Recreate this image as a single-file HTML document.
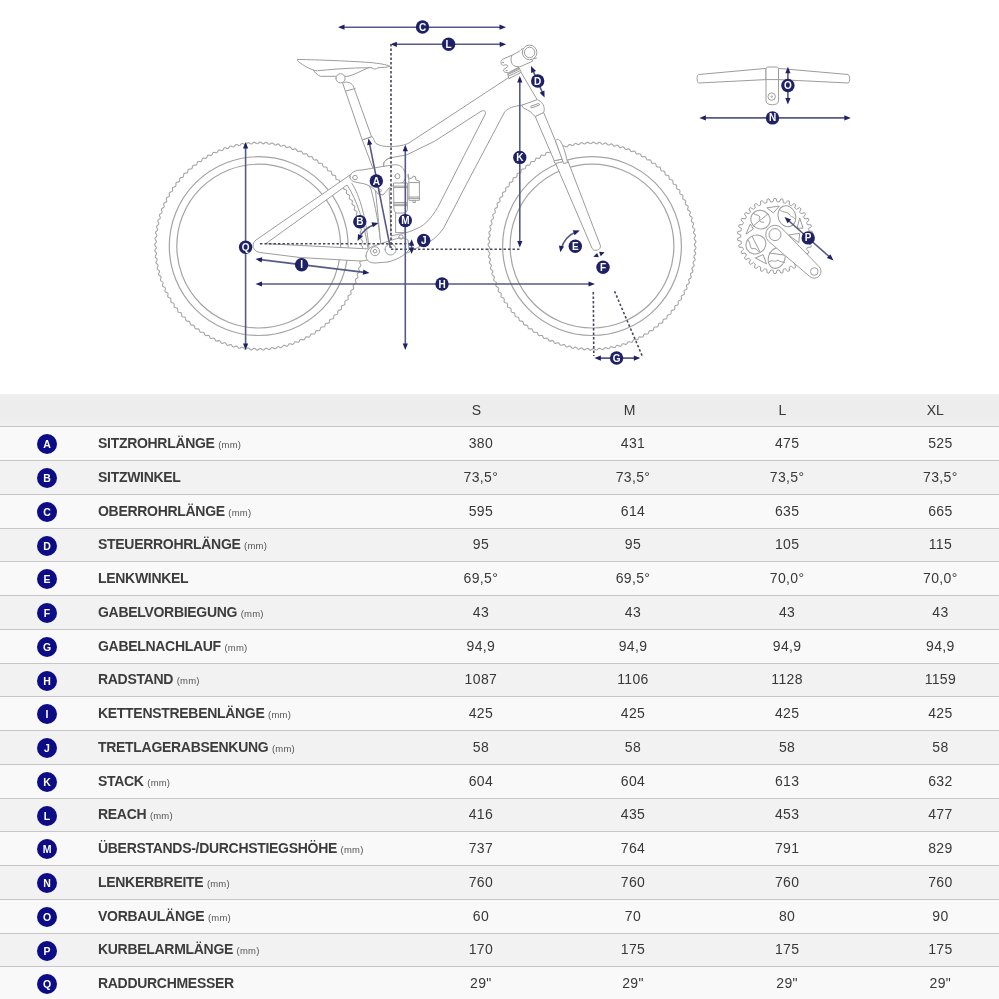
<!DOCTYPE html>
<html><head><meta charset="utf-8"><style>
*{margin:0;padding:0;box-sizing:border-box}
html,body{width:999px;height:999px;overflow:hidden;background:#fff}
body{position:relative;font-family:"Liberation Sans",Arial,sans-serif;color:#363636}
.hdr{position:absolute;left:0;top:394px;width:999px;height:33px;background:linear-gradient(#f0f0f0 0,#ededed 12%,#ededed 75%,#f1f1f1 100%);border-bottom:1px solid #c4c4c4}
.row{position:absolute;left:0;width:999px;border-bottom:1px solid #c6c6c6}
.odd{background:#f9f9f9}
.even{background:#f2f2f2}
.c{position:absolute;width:20px;height:20px;border-radius:50%;background:#0c0c86;color:#fff;font-weight:bold;font-size:10.5px;line-height:20px;text-align:center}
.lb{position:absolute;left:98px;font-weight:bold;font-size:14px;white-space:nowrap;color:#3c3c3c;letter-spacing:-0.3px;line-height:18px}
.lb small{font-weight:normal;font-size:9.5px;color:#555;letter-spacing:0.2px}
.v{position:absolute;width:100px;text-align:center;font-size:14px;white-space:nowrap;line-height:18px;letter-spacing:0.35px;color:#383838}
.h{position:absolute;width:100px;text-align:center;font-size:14px;top:401px;line-height:18px}
</style></head><body>

<svg width="999" height="394" viewBox="0 0 999 394" style="position:absolute;left:0;top:0">
<g fill="none" stroke="#9c9c9c" stroke-width="1.1" stroke-linejoin="round" stroke-linecap="round">
<polyline points="361.90,246.10 362.50,246.85 362.74,247.61 362.48,248.36 361.86,249.10 361.23,249.83 360.95,250.56 361.17,251.32 361.73,252.10 362.28,252.89 362.47,253.66 362.17,254.39 361.51,255.09 360.84,255.79 360.52,256.50 360.69,257.27 361.20,258.08 361.71,258.90 361.86,259.68 361.51,260.40 360.81,261.06 360.10,261.71 359.74,262.41 359.87,263.18 360.33,264.02 360.79,264.87 360.90,265.66 360.51,266.35 359.77,266.97 359.03,267.58 358.62,268.25 358.70,269.03 359.12,269.90 359.53,270.77 359.59,271.57 359.16,272.24 358.38,272.81 357.61,273.37 357.17,274.03 357.20,274.81 357.56,275.70 357.92,276.59 357.93,277.39 357.47,278.03 356.66,278.56 355.85,279.08 355.38,279.70 355.36,280.49 355.68,281.40 355.98,282.31 355.95,283.11 355.44,283.72 354.61,284.20 353.77,284.67 353.26,285.27 353.20,286.05 353.46,286.98 353.71,287.91 353.63,288.70 353.09,289.28 352.23,289.71 351.37,290.14 350.82,290.70 350.72,291.48 350.92,292.42 351.12,293.36 350.99,294.14 350.42,294.70 349.54,295.08 348.65,295.45 348.07,295.98 347.92,296.75 348.07,297.70 348.21,298.65 348.04,299.43 347.44,299.95 346.54,300.28 345.63,300.60 345.02,301.09 344.83,301.85 344.92,302.81 345.01,303.77 344.79,304.53 344.16,305.02 343.24,305.29 342.31,305.56 341.68,306.02 341.44,306.77 341.48,307.73 341.51,308.69 341.25,309.44 340.59,309.89 339.65,310.11 338.72,310.32 338.05,310.74 337.77,311.48 337.76,312.44 337.73,313.40 337.43,314.13 336.74,314.54 335.79,314.71 334.85,314.86 334.16,315.25 333.84,315.96 333.76,316.92 333.68,317.88 333.34,318.60 332.63,318.96 331.67,319.07 330.72,319.17 330.01,319.52 329.65,320.21 329.52,321.16 329.38,322.12 329.00,322.81 328.27,323.14 327.31,323.19 326.35,323.24 325.62,323.54 325.22,324.21 325.04,325.16 324.84,326.10 324.42,326.77 323.67,327.05 322.71,327.05 321.75,327.04 321.01,327.30 320.56,327.95 320.33,328.88 320.08,329.81 319.61,330.46 318.85,330.69 317.89,330.64 316.94,330.57 316.18,330.79 315.70,331.41 315.41,332.32 315.11,333.24 314.61,333.85 313.83,334.05 312.88,333.94 311.93,333.81 311.16,333.98 310.64,334.58 310.30,335.47 309.95,336.37 309.41,336.96 308.63,337.11 307.68,336.94 306.74,336.76 305.96,336.89 305.41,337.45 305.02,338.32 304.61,339.20 304.04,339.75 303.25,339.85 302.31,339.63 301.38,339.40 300.60,339.48 300.02,340.01 299.58,340.86 299.12,341.71 298.52,342.23 297.72,342.29 296.80,342.01 295.89,341.72 295.10,341.76 294.49,342.25 294.00,343.08 293.49,343.90 292.86,344.38 292.07,344.39 291.16,344.06 290.26,343.72 289.48,343.71 288.84,344.17 288.30,344.96 287.75,345.75 287.09,346.20 286.29,346.17 285.41,345.78 284.53,345.39 283.75,345.34 283.09,345.76 282.50,346.52 281.90,347.27 281.22,347.68 280.43,347.60 279.57,347.17 278.72,346.73 277.94,346.63 277.25,347.01 276.62,347.73 275.98,348.45 275.28,348.82 274.49,348.69 273.66,348.21 272.83,347.72 272.06,347.57 271.35,347.92 270.68,348.60 270.00,349.28 269.28,349.61 268.50,349.44 267.69,348.91 266.90,348.37 266.14,348.18 265.41,348.48 264.70,349.13 263.98,349.77 263.24,350.05 262.47,349.83 261.70,349.26 260.94,348.67 260.19,348.44 259.45,348.70 258.70,349.30 257.95,349.90 257.19,350.14 256.44,349.88 255.70,349.26 254.97,348.63 254.24,348.35 253.48,348.57 252.70,349.13 251.91,349.68 251.14,349.87 250.41,349.57 249.71,348.91 249.01,348.24 248.30,347.92 247.53,348.09 246.72,348.60 245.90,349.11 245.12,349.26 244.40,348.91 243.74,348.21 243.09,347.50 242.39,347.14 241.62,347.27 240.78,347.73 239.93,348.19 239.14,348.30 238.45,347.91 237.83,347.17 237.22,346.43 236.55,346.02 235.77,346.10 234.90,346.52 234.03,346.93 233.23,346.99 232.56,346.56 231.99,345.78 231.43,345.01 230.77,344.57 229.99,344.60 229.10,344.96 228.21,345.32 227.41,345.33 226.77,344.87 226.24,344.06 225.72,343.25 225.10,342.78 224.31,342.76 223.40,343.08 222.49,343.38 221.69,343.35 221.08,342.84 220.60,342.01 220.13,341.17 219.53,340.66 218.75,340.60 217.82,340.86 216.89,341.11 216.10,341.03 215.52,340.49 215.09,339.63 214.66,338.77 214.10,338.22 213.32,338.12 212.38,338.32 211.44,338.52 210.66,338.39 210.10,337.82 209.72,336.94 209.35,336.05 208.82,335.47 208.05,335.32 207.10,335.47 206.15,335.61 205.37,335.44 204.85,334.84 204.52,333.94 204.20,333.03 203.71,332.42 202.95,332.23 201.99,332.32 201.03,332.41 200.27,332.19 199.78,331.56 199.51,330.64 199.24,329.71 198.78,329.08 198.03,328.84 197.07,328.88 196.11,328.91 195.36,328.65 194.91,327.99 194.69,327.05 194.48,326.12 194.06,325.45 193.32,325.17 192.36,325.16 191.40,325.13 190.67,324.83 190.26,324.14 190.09,323.19 189.94,322.25 189.55,321.56 188.84,321.24 187.88,321.16 186.92,321.08 186.20,320.74 185.84,320.03 185.73,319.07 185.63,318.12 185.28,317.41 184.59,317.05 183.64,316.92 182.68,316.78 181.99,316.40 181.66,315.67 181.61,314.71 181.56,313.75 181.26,313.02 180.59,312.62 179.64,312.44 178.70,312.24 178.03,311.82 177.75,311.07 177.75,310.11 177.76,309.15 177.50,308.41 176.85,307.96 175.92,307.73 174.99,307.48 174.34,307.01 174.11,306.25 174.16,305.29 174.23,304.34 174.01,303.58 173.39,303.10 172.48,302.81 171.56,302.51 170.95,302.01 170.75,301.23 170.86,300.28 170.99,299.33 170.82,298.56 170.22,298.04 169.33,297.70 168.43,297.35 167.84,296.81 167.69,296.03 167.86,295.08 168.04,294.14 167.91,293.36 167.35,292.81 166.48,292.42 165.60,292.01 165.05,291.44 164.95,290.65 165.17,289.71 165.40,288.78 165.32,288.00 164.79,287.42 163.94,286.98 163.09,286.52 162.57,285.92 162.51,285.12 162.79,284.20 163.08,283.29 163.04,282.50 162.55,281.89 161.72,281.40 160.90,280.89 160.42,280.26 160.41,279.47 160.74,278.56 161.08,277.66 161.09,276.88 160.63,276.24 159.84,275.70 159.05,275.15 158.60,274.49 158.63,273.69 159.02,272.81 159.41,271.93 159.46,271.15 159.04,270.49 158.28,269.90 157.53,269.30 157.12,268.62 157.20,267.83 157.63,266.97 158.07,266.12 158.17,265.34 157.79,264.65 157.07,264.02 156.35,263.38 155.98,262.68 156.11,261.89 156.59,261.06 157.08,260.23 157.23,259.46 156.88,258.75 156.20,258.08 155.52,257.40 155.19,256.68 155.36,255.90 155.89,255.09 156.43,254.30 156.62,253.54 156.32,252.81 155.67,252.10 155.03,251.38 154.75,250.64 154.97,249.87 155.54,249.10 156.13,248.34 156.36,247.59 156.10,246.85 155.50,246.10 154.90,245.35 154.66,244.59 154.92,243.84 155.54,243.10 156.17,242.37 156.45,241.64 156.23,240.88 155.67,240.10 155.12,239.31 154.93,238.54 155.23,237.81 155.89,237.11 156.56,236.41 156.88,235.70 156.71,234.93 156.20,234.12 155.69,233.30 155.54,232.52 155.89,231.80 156.59,231.14 157.30,230.49 157.66,229.79 157.53,229.02 157.07,228.18 156.61,227.33 156.50,226.54 156.89,225.85 157.63,225.23 158.37,224.62 158.78,223.95 158.70,223.17 158.28,222.30 157.87,221.43 157.81,220.63 158.24,219.96 159.02,219.39 159.79,218.83 160.23,218.17 160.20,217.39 159.84,216.50 159.48,215.61 159.47,214.81 159.93,214.17 160.74,213.64 161.55,213.12 162.02,212.50 162.04,211.71 161.72,210.80 161.42,209.89 161.45,209.09 161.96,208.48 162.79,208.00 163.63,207.53 164.14,206.93 164.20,206.15 163.94,205.22 163.69,204.29 163.77,203.50 164.31,202.92 165.17,202.49 166.03,202.06 166.58,201.50 166.68,200.72 166.48,199.78 166.28,198.84 166.41,198.06 166.98,197.50 167.86,197.12 168.75,196.75 169.33,196.22 169.48,195.45 169.33,194.50 169.19,193.55 169.36,192.77 169.96,192.25 170.86,191.92 171.77,191.60 172.38,191.11 172.57,190.35 172.48,189.39 172.39,188.43 172.61,187.67 173.24,187.18 174.16,186.91 175.09,186.64 175.72,186.18 175.96,185.43 175.92,184.47 175.89,183.51 176.15,182.76 176.81,182.31 177.75,182.09 178.68,181.88 179.35,181.46 179.63,180.72 179.64,179.76 179.67,178.80 179.97,178.07 180.66,177.66 181.61,177.49 182.55,177.34 183.24,176.95 183.56,176.24 183.64,175.28 183.72,174.32 184.06,173.60 184.77,173.24 185.73,173.13 186.68,173.03 187.39,172.68 187.75,171.99 187.88,171.04 188.02,170.08 188.40,169.39 189.13,169.06 190.09,169.01 191.05,168.96 191.78,168.66 192.18,167.99 192.36,167.04 192.56,166.10 192.98,165.43 193.73,165.15 194.69,165.15 195.65,165.16 196.39,164.90 196.84,164.25 197.07,163.32 197.32,162.39 197.79,161.74 198.55,161.51 199.51,161.56 200.46,161.63 201.22,161.41 201.70,160.79 201.99,159.88 202.29,158.96 202.79,158.35 203.57,158.15 204.52,158.26 205.47,158.39 206.24,158.22 206.76,157.62 207.10,156.73 207.45,155.83 207.99,155.24 208.77,155.09 209.72,155.26 210.66,155.44 211.44,155.31 211.99,154.75 212.38,153.88 212.79,153.00 213.36,152.45 214.15,152.35 215.09,152.57 216.02,152.80 216.80,152.72 217.38,152.19 217.82,151.34 218.28,150.49 218.88,149.97 219.68,149.91 220.60,150.19 221.51,150.48 222.30,150.44 222.91,149.95 223.40,149.12 223.91,148.30 224.54,147.82 225.33,147.81 226.24,148.14 227.14,148.48 227.92,148.49 228.56,148.03 229.10,147.24 229.65,146.45 230.31,146.00 231.11,146.03 231.99,146.42 232.87,146.81 233.65,146.86 234.31,146.44 234.90,145.68 235.50,144.93 236.18,144.52 236.97,144.60 237.83,145.03 238.68,145.47 239.46,145.57 240.15,145.19 240.78,144.47 241.42,143.75 242.12,143.38 242.91,143.51 243.74,143.99 244.57,144.48 245.34,144.63 246.05,144.28 246.72,143.60 247.40,142.92 248.12,142.59 248.90,142.76 249.71,143.29 250.50,143.83 251.26,144.02 251.99,143.72 252.70,143.07 253.42,142.43 254.16,142.15 254.93,142.37 255.70,142.94 256.46,143.53 257.21,143.76 257.95,143.50 258.70,142.90 259.45,142.30 260.21,142.06 260.96,142.32 261.70,142.94 262.43,143.57 263.16,143.85 263.92,143.63 264.70,143.07 265.49,142.52 266.26,142.33 266.99,142.63 267.69,143.29 268.39,143.96 269.10,144.28 269.87,144.11 270.68,143.60 271.50,143.09 272.28,142.94 273.00,143.29 273.66,143.99 274.31,144.70 275.01,145.06 275.78,144.93 276.62,144.47 277.47,144.01 278.26,143.90 278.95,144.29 279.57,145.03 280.18,145.77 280.85,146.18 281.63,146.10 282.50,145.68 283.37,145.27 284.17,145.21 284.84,145.64 285.41,146.42 285.97,147.19 286.63,147.63 287.41,147.60 288.30,147.24 289.19,146.88 289.99,146.87 290.63,147.33 291.16,148.14 291.68,148.95 292.30,149.42 293.09,149.44 294.00,149.12 294.91,148.82 295.71,148.85 296.32,149.36 296.80,150.19 297.27,151.03 297.87,151.54 298.65,151.60 299.58,151.34 300.51,151.09 301.30,151.17 301.88,151.71 302.31,152.57 302.74,153.43 303.30,153.98 304.08,154.08 305.02,153.88 305.96,153.68 306.74,153.81 307.30,154.38 307.68,155.26 308.05,156.15 308.58,156.73 309.35,156.88 310.30,156.73 311.25,156.59 312.03,156.76 312.55,157.36 312.88,158.26 313.20,159.17 313.69,159.78 314.45,159.97 315.41,159.88 316.37,159.79 317.13,160.01 317.62,160.64 317.89,161.56 318.16,162.49 318.62,163.12 319.37,163.36 320.33,163.32 321.29,163.29 322.04,163.55 322.49,164.21 322.71,165.15 322.92,166.08 323.34,166.75 324.08,167.03 325.04,167.04 326.00,167.07 326.73,167.37 327.14,168.06 327.31,169.01 327.46,169.95 327.85,170.64 328.56,170.96 329.52,171.04 330.48,171.12 331.20,171.46 331.56,172.17 331.67,173.13 331.77,174.08 332.12,174.79 332.81,175.15 333.76,175.28 334.72,175.42 335.41,175.80 335.74,176.53 335.79,177.49 335.84,178.45 336.14,179.18 336.81,179.58 337.76,179.76 338.70,179.96 339.37,180.38 339.65,181.13 339.65,182.09 339.64,183.05 339.90,183.79 340.55,184.24 341.48,184.47 342.41,184.72 343.06,185.19 343.29,185.95 343.24,186.91 343.17,187.86 343.39,188.62 344.01,189.10 344.92,189.39 345.84,189.69 346.45,190.19 346.65,190.97 346.54,191.92 346.41,192.87 346.58,193.64 347.18,194.16 348.07,194.50 348.97,194.85 349.56,195.39 349.71,196.17 349.54,197.12 349.36,198.06 349.49,198.84 350.05,199.39 350.92,199.78 351.80,200.19 352.35,200.76 352.45,201.55 352.23,202.49 352.00,203.42 352.08,204.20 352.61,204.78 353.46,205.22 354.31,205.68 354.83,206.28 354.89,207.08 354.61,208.00 354.32,208.91 354.36,209.70 354.85,210.31 355.68,210.80 356.50,211.31 356.98,211.94 356.99,212.73 356.66,213.64 356.32,214.54 356.31,215.32 356.77,215.96 357.56,216.50 358.35,217.05 358.80,217.71 358.77,218.51 358.38,219.39 357.99,220.27 357.94,221.05 358.36,221.71 359.12,222.30 359.87,222.90 360.28,223.58 360.20,224.37 359.77,225.23 359.33,226.08 359.23,226.86 359.61,227.55 360.33,228.18 361.05,228.82 361.42,229.52 361.29,230.31 360.81,231.14 360.32,231.97 360.17,232.74 360.52,233.45 361.20,234.12 361.88,234.80 362.21,235.52 362.04,236.30 361.51,237.11 360.97,237.90 360.78,238.66 361.08,239.39 361.73,240.10 362.37,240.82 362.65,241.56 362.43,242.33 361.86,243.10 361.27,243.86 361.04,244.61 361.30,245.35 361.90,246.10" fill="none" stroke="#a6a6a6" stroke-width="1.1"/><circle cx="258.7" cy="246.1" r="89.4" fill="none" stroke="#a4a4a4" stroke-width="1.2"/><circle cx="258.7" cy="246.1" r="81.9" fill="none" stroke="#a4a4a4" stroke-width="1.2"/>
<polyline points="695.20,246.10 695.80,246.85 696.04,247.61 695.78,248.36 695.16,249.10 694.53,249.83 694.25,250.56 694.47,251.32 695.03,252.10 695.58,252.89 695.77,253.66 695.47,254.39 694.81,255.09 694.14,255.79 693.82,256.50 693.99,257.27 694.50,258.08 695.01,258.90 695.16,259.68 694.81,260.40 694.11,261.06 693.40,261.71 693.04,262.41 693.17,263.18 693.63,264.02 694.09,264.87 694.20,265.66 693.81,266.35 693.07,266.97 692.33,267.58 691.92,268.25 692.00,269.03 692.42,269.90 692.83,270.77 692.89,271.57 692.46,272.24 691.68,272.81 690.91,273.37 690.47,274.03 690.50,274.81 690.86,275.70 691.22,276.59 691.23,277.39 690.77,278.03 689.96,278.56 689.15,279.08 688.68,279.70 688.66,280.49 688.98,281.40 689.28,282.31 689.25,283.11 688.74,283.72 687.91,284.20 687.07,284.67 686.56,285.27 686.50,286.05 686.76,286.98 687.01,287.91 686.93,288.70 686.39,289.28 685.53,289.71 684.67,290.14 684.12,290.70 684.02,291.48 684.22,292.42 684.42,293.36 684.29,294.14 683.72,294.70 682.84,295.08 681.95,295.45 681.37,295.98 681.22,296.75 681.37,297.70 681.51,298.65 681.34,299.43 680.74,299.95 679.84,300.28 678.93,300.60 678.32,301.09 678.13,301.85 678.22,302.81 678.31,303.77 678.09,304.53 677.46,305.02 676.54,305.29 675.61,305.56 674.98,306.02 674.74,306.77 674.78,307.73 674.81,308.69 674.55,309.44 673.89,309.89 672.95,310.11 672.02,310.32 671.35,310.74 671.07,311.48 671.06,312.44 671.03,313.40 670.73,314.13 670.04,314.54 669.09,314.71 668.15,314.86 667.46,315.25 667.14,315.96 667.06,316.92 666.98,317.88 666.64,318.60 665.93,318.96 664.97,319.07 664.02,319.17 663.31,319.52 662.95,320.21 662.82,321.16 662.68,322.12 662.30,322.81 661.57,323.14 660.61,323.19 659.65,323.24 658.92,323.54 658.52,324.21 658.34,325.16 658.14,326.10 657.72,326.77 656.97,327.05 656.01,327.05 655.05,327.04 654.31,327.30 653.86,327.95 653.63,328.88 653.38,329.81 652.91,330.46 652.15,330.69 651.19,330.64 650.24,330.57 649.48,330.79 649.00,331.41 648.71,332.32 648.41,333.24 647.91,333.85 647.13,334.05 646.18,333.94 645.23,333.81 644.46,333.98 643.94,334.58 643.60,335.47 643.25,336.37 642.71,336.96 641.93,337.11 640.98,336.94 640.04,336.76 639.26,336.89 638.71,337.45 638.32,338.32 637.91,339.20 637.34,339.75 636.55,339.85 635.61,339.63 634.68,339.40 633.90,339.48 633.32,340.01 632.88,340.86 632.42,341.71 631.82,342.23 631.02,342.29 630.10,342.01 629.19,341.72 628.40,341.76 627.79,342.25 627.30,343.08 626.79,343.90 626.16,344.38 625.37,344.39 624.46,344.06 623.56,343.72 622.78,343.71 622.14,344.17 621.60,344.96 621.05,345.75 620.39,346.20 619.59,346.17 618.71,345.78 617.83,345.39 617.05,345.34 616.39,345.76 615.80,346.52 615.20,347.27 614.52,347.68 613.73,347.60 612.87,347.17 612.02,346.73 611.24,346.63 610.55,347.01 609.92,347.73 609.28,348.45 608.58,348.82 607.79,348.69 606.96,348.21 606.13,347.72 605.36,347.57 604.65,347.92 603.98,348.60 603.30,349.28 602.58,349.61 601.80,349.44 600.99,348.91 600.20,348.37 599.44,348.18 598.71,348.48 598.00,349.13 597.28,349.77 596.54,350.05 595.77,349.83 595.00,349.26 594.24,348.67 593.49,348.44 592.75,348.70 592.00,349.30 591.25,349.90 590.49,350.14 589.74,349.88 589.00,349.26 588.27,348.63 587.54,348.35 586.78,348.57 586.00,349.13 585.21,349.68 584.44,349.87 583.71,349.57 583.01,348.91 582.31,348.24 581.60,347.92 580.83,348.09 580.02,348.60 579.20,349.11 578.42,349.26 577.70,348.91 577.04,348.21 576.39,347.50 575.69,347.14 574.92,347.27 574.08,347.73 573.23,348.19 572.44,348.30 571.75,347.91 571.13,347.17 570.52,346.43 569.85,346.02 569.07,346.10 568.20,346.52 567.33,346.93 566.53,346.99 565.86,346.56 565.29,345.78 564.73,345.01 564.07,344.57 563.29,344.60 562.40,344.96 561.51,345.32 560.71,345.33 560.07,344.87 559.54,344.06 559.02,343.25 558.40,342.78 557.61,342.76 556.70,343.08 555.79,343.38 554.99,343.35 554.38,342.84 553.90,342.01 553.43,341.17 552.83,340.66 552.05,340.60 551.12,340.86 550.19,341.11 549.40,341.03 548.82,340.49 548.39,339.63 547.96,338.77 547.40,338.22 546.62,338.12 545.68,338.32 544.74,338.52 543.96,338.39 543.40,337.82 543.02,336.94 542.65,336.05 542.12,335.47 541.35,335.32 540.40,335.47 539.45,335.61 538.67,335.44 538.15,334.84 537.82,333.94 537.50,333.03 537.01,332.42 536.25,332.23 535.29,332.32 534.33,332.41 533.57,332.19 533.08,331.56 532.81,330.64 532.54,329.71 532.08,329.08 531.33,328.84 530.37,328.88 529.41,328.91 528.66,328.65 528.21,327.99 527.99,327.05 527.78,326.12 527.36,325.45 526.62,325.17 525.66,325.16 524.70,325.13 523.97,324.83 523.56,324.14 523.39,323.19 523.24,322.25 522.85,321.56 522.14,321.24 521.18,321.16 520.22,321.08 519.50,320.74 519.14,320.03 519.03,319.07 518.93,318.12 518.58,317.41 517.89,317.05 516.94,316.92 515.98,316.78 515.29,316.40 514.96,315.67 514.91,314.71 514.86,313.75 514.56,313.02 513.89,312.62 512.94,312.44 512.00,312.24 511.33,311.82 511.05,311.07 511.05,310.11 511.06,309.15 510.80,308.41 510.15,307.96 509.22,307.73 508.29,307.48 507.64,307.01 507.41,306.25 507.46,305.29 507.53,304.34 507.31,303.58 506.69,303.10 505.78,302.81 504.86,302.51 504.25,302.01 504.05,301.23 504.16,300.28 504.29,299.33 504.12,298.56 503.52,298.04 502.63,297.70 501.73,297.35 501.14,296.81 500.99,296.03 501.16,295.08 501.34,294.14 501.21,293.36 500.65,292.81 499.78,292.42 498.90,292.01 498.35,291.44 498.25,290.65 498.47,289.71 498.70,288.78 498.62,288.00 498.09,287.42 497.24,286.98 496.39,286.52 495.87,285.92 495.81,285.12 496.09,284.20 496.38,283.29 496.34,282.50 495.85,281.89 495.02,281.40 494.20,280.89 493.72,280.26 493.71,279.47 494.04,278.56 494.38,277.66 494.39,276.88 493.93,276.24 493.14,275.70 492.35,275.15 491.90,274.49 491.93,273.69 492.32,272.81 492.71,271.93 492.76,271.15 492.34,270.49 491.58,269.90 490.83,269.30 490.42,268.62 490.50,267.83 490.93,266.97 491.37,266.12 491.47,265.34 491.09,264.65 490.37,264.02 489.65,263.38 489.28,262.68 489.41,261.89 489.89,261.06 490.38,260.23 490.53,259.46 490.18,258.75 489.50,258.08 488.82,257.40 488.49,256.68 488.66,255.90 489.19,255.09 489.73,254.30 489.92,253.54 489.62,252.81 488.97,252.10 488.33,251.38 488.05,250.64 488.27,249.87 488.84,249.10 489.43,248.34 489.66,247.59 489.40,246.85 488.80,246.10 488.20,245.35 487.96,244.59 488.22,243.84 488.84,243.10 489.47,242.37 489.75,241.64 489.53,240.88 488.97,240.10 488.42,239.31 488.23,238.54 488.53,237.81 489.19,237.11 489.86,236.41 490.18,235.70 490.01,234.93 489.50,234.12 488.99,233.30 488.84,232.52 489.19,231.80 489.89,231.14 490.60,230.49 490.96,229.79 490.83,229.02 490.37,228.18 489.91,227.33 489.80,226.54 490.19,225.85 490.93,225.23 491.67,224.62 492.08,223.95 492.00,223.17 491.58,222.30 491.17,221.43 491.11,220.63 491.54,219.96 492.32,219.39 493.09,218.83 493.53,218.17 493.50,217.39 493.14,216.50 492.78,215.61 492.77,214.81 493.23,214.17 494.04,213.64 494.85,213.12 495.32,212.50 495.34,211.71 495.02,210.80 494.72,209.89 494.75,209.09 495.26,208.48 496.09,208.00 496.93,207.53 497.44,206.93 497.50,206.15 497.24,205.22 496.99,204.29 497.07,203.50 497.61,202.92 498.47,202.49 499.33,202.06 499.88,201.50 499.98,200.72 499.78,199.78 499.58,198.84 499.71,198.06 500.28,197.50 501.16,197.12 502.05,196.75 502.63,196.22 502.78,195.45 502.63,194.50 502.49,193.55 502.66,192.77 503.26,192.25 504.16,191.92 505.07,191.60 505.68,191.11 505.87,190.35 505.78,189.39 505.69,188.43 505.91,187.67 506.54,187.18 507.46,186.91 508.39,186.64 509.02,186.18 509.26,185.43 509.22,184.47 509.19,183.51 509.45,182.76 510.11,182.31 511.05,182.09 511.98,181.88 512.65,181.46 512.93,180.72 512.94,179.76 512.97,178.80 513.27,178.07 513.96,177.66 514.91,177.49 515.85,177.34 516.54,176.95 516.86,176.24 516.94,175.28 517.02,174.32 517.36,173.60 518.07,173.24 519.03,173.13 519.98,173.03 520.69,172.68 521.05,171.99 521.18,171.04 521.32,170.08 521.70,169.39 522.43,169.06 523.39,169.01 524.35,168.96 525.08,168.66 525.48,167.99 525.66,167.04 525.86,166.10 526.28,165.43 527.03,165.15 527.99,165.15 528.95,165.16 529.69,164.90 530.14,164.25 530.37,163.32 530.62,162.39 531.09,161.74 531.85,161.51 532.81,161.56 533.76,161.63 534.52,161.41 535.00,160.79 535.29,159.88 535.59,158.96 536.09,158.35 536.87,158.15 537.82,158.26 538.77,158.39 539.54,158.22 540.06,157.62 540.40,156.73 540.75,155.83 541.29,155.24 542.07,155.09 543.02,155.26 543.96,155.44 544.74,155.31 545.29,154.75 545.68,153.88 546.09,153.00 546.66,152.45 547.45,152.35 548.39,152.57 549.32,152.80 550.10,152.72 550.68,152.19 551.12,151.34 551.58,150.49 552.18,149.97 552.98,149.91 553.90,150.19 554.81,150.48 555.60,150.44 556.21,149.95 556.70,149.12 557.21,148.30 557.84,147.82 558.63,147.81 559.54,148.14 560.44,148.48 561.22,148.49 561.86,148.03 562.40,147.24 562.95,146.45 563.61,146.00 564.41,146.03 565.29,146.42 566.17,146.81 566.95,146.86 567.61,146.44 568.20,145.68 568.80,144.93 569.48,144.52 570.27,144.60 571.13,145.03 571.98,145.47 572.76,145.57 573.45,145.19 574.08,144.47 574.72,143.75 575.42,143.38 576.21,143.51 577.04,143.99 577.87,144.48 578.64,144.63 579.35,144.28 580.02,143.60 580.70,142.92 581.42,142.59 582.20,142.76 583.01,143.29 583.80,143.83 584.56,144.02 585.29,143.72 586.00,143.07 586.72,142.43 587.46,142.15 588.23,142.37 589.00,142.94 589.76,143.53 590.51,143.76 591.25,143.50 592.00,142.90 592.75,142.30 593.51,142.06 594.26,142.32 595.00,142.94 595.73,143.57 596.46,143.85 597.22,143.63 598.00,143.07 598.79,142.52 599.56,142.33 600.29,142.63 600.99,143.29 601.69,143.96 602.40,144.28 603.17,144.11 603.98,143.60 604.80,143.09 605.58,142.94 606.30,143.29 606.96,143.99 607.61,144.70 608.31,145.06 609.08,144.93 609.92,144.47 610.77,144.01 611.56,143.90 612.25,144.29 612.87,145.03 613.48,145.77 614.15,146.18 614.93,146.10 615.80,145.68 616.67,145.27 617.47,145.21 618.14,145.64 618.71,146.42 619.27,147.19 619.93,147.63 620.71,147.60 621.60,147.24 622.49,146.88 623.29,146.87 623.93,147.33 624.46,148.14 624.98,148.95 625.60,149.42 626.39,149.44 627.30,149.12 628.21,148.82 629.01,148.85 629.62,149.36 630.10,150.19 630.57,151.03 631.17,151.54 631.95,151.60 632.88,151.34 633.81,151.09 634.60,151.17 635.18,151.71 635.61,152.57 636.04,153.43 636.60,153.98 637.38,154.08 638.32,153.88 639.26,153.68 640.04,153.81 640.60,154.38 640.98,155.26 641.35,156.15 641.88,156.73 642.65,156.88 643.60,156.73 644.55,156.59 645.33,156.76 645.85,157.36 646.18,158.26 646.50,159.17 646.99,159.78 647.75,159.97 648.71,159.88 649.67,159.79 650.43,160.01 650.92,160.64 651.19,161.56 651.46,162.49 651.92,163.12 652.67,163.36 653.63,163.32 654.59,163.29 655.34,163.55 655.79,164.21 656.01,165.15 656.22,166.08 656.64,166.75 657.38,167.03 658.34,167.04 659.30,167.07 660.03,167.37 660.44,168.06 660.61,169.01 660.76,169.95 661.15,170.64 661.86,170.96 662.82,171.04 663.78,171.12 664.50,171.46 664.86,172.17 664.97,173.13 665.07,174.08 665.42,174.79 666.11,175.15 667.06,175.28 668.02,175.42 668.71,175.80 669.04,176.53 669.09,177.49 669.14,178.45 669.44,179.18 670.11,179.58 671.06,179.76 672.00,179.96 672.67,180.38 672.95,181.13 672.95,182.09 672.94,183.05 673.20,183.79 673.85,184.24 674.78,184.47 675.71,184.72 676.36,185.19 676.59,185.95 676.54,186.91 676.47,187.86 676.69,188.62 677.31,189.10 678.22,189.39 679.14,189.69 679.75,190.19 679.95,190.97 679.84,191.92 679.71,192.87 679.88,193.64 680.48,194.16 681.37,194.50 682.27,194.85 682.86,195.39 683.01,196.17 682.84,197.12 682.66,198.06 682.79,198.84 683.35,199.39 684.22,199.78 685.10,200.19 685.65,200.76 685.75,201.55 685.53,202.49 685.30,203.42 685.38,204.20 685.91,204.78 686.76,205.22 687.61,205.68 688.13,206.28 688.19,207.08 687.91,208.00 687.62,208.91 687.66,209.70 688.15,210.31 688.98,210.80 689.80,211.31 690.28,211.94 690.29,212.73 689.96,213.64 689.62,214.54 689.61,215.32 690.07,215.96 690.86,216.50 691.65,217.05 692.10,217.71 692.07,218.51 691.68,219.39 691.29,220.27 691.24,221.05 691.66,221.71 692.42,222.30 693.17,222.90 693.58,223.58 693.50,224.37 693.07,225.23 692.63,226.08 692.53,226.86 692.91,227.55 693.63,228.18 694.35,228.82 694.72,229.52 694.59,230.31 694.11,231.14 693.62,231.97 693.47,232.74 693.82,233.45 694.50,234.12 695.18,234.80 695.51,235.52 695.34,236.30 694.81,237.11 694.27,237.90 694.08,238.66 694.38,239.39 695.03,240.10 695.67,240.82 695.95,241.56 695.73,242.33 695.16,243.10 694.57,243.86 694.34,244.61 694.60,245.35 695.20,246.10" fill="none" stroke="#a6a6a6" stroke-width="1.1"/><circle cx="592" cy="246.1" r="89.4" fill="none" stroke="#a4a4a4" stroke-width="1.2"/><circle cx="592" cy="246.1" r="81.9" fill="none" stroke="#a4a4a4" stroke-width="1.2"/>
</g>
<g stroke="#9c9c9c" stroke-width="1" stroke-linejoin="round" stroke-linecap="round">
<path fill="#fff" fill-rule="evenodd" d="M256,251 C252,249 252,243 256,240 L350,175 C354,172 360,172 363,176 L371,189 C375,205 379,225 381,246 L376,256 C372,259 366,261 360,261 L300,257.5 L260,252.5 Z M266,243.5 L347,185 C357,200 364,222 368,248.5 Z"/>
<path fill="none" d="M352,183.5 C360,196 366,218 369,248"/>
<path fill="none" d="M373.4,169.8 L382,238"/>
<path fill="#fff" fill-rule="evenodd" d="M362.6,139.8 L372.2,136.6 C374,139 374.5,142 376,143.5 C380,146 385,146.6 390.2,146.6 C396,146.6 402,145.8 408,143.6 L509.5,77 L520.8,71.8 L538.4,101.8 L522,105.2 C514,106 508,108 504.6,112 L466.5,184 L443.7,228 C438,236 433,240 428.5,242 L408,252.6 L392,256 L381,246 L373.4,169.8 Z M435,141 L481,111.3 C485,109.5 486.5,112 484.8,115 L440,203 C434,215 426,225 417,228.5 C412,231 406,233 401.9,233.6 L391,236 L389,185 L383.8,166.6 C383,162 385,160 390.2,157.8 L406.2,155 Z"/>
<path fill="#fff" d="M350,177 C350,172 356,170 362,170 L382,166.6 L393,165 C398,164 402,166 404,170 C407,175 406,180 402,183 L392,186 C388,188 386,192 383,195 L378,194 C375,189 369,184 360,183 C354,182 350,181 350,177 Z"/>
<path fill="none" d="M355,177.5 m-2.3,0 a2.3,2.3 0 1,0 4.6,0 a2.3,2.3 0 1,0 -4.6,0"/>
<path fill="none" d="M397.4,176.2 m-2.5,0 a2.5,2.5 0 1,0 5,0 a2.5,2.5 0 1,0 -5,0"/>
<path fill="none" d="M379.8,190.6 m-1.5,0 a1.5,1.5 0 1,0 3,0 a1.5,1.5 0 1,0 -3,0"/>
<path fill="none" d="M383.8,166.6 C383,163 384,160 390,158"/>
<path fill="#fff" d="M396,212 L404.8,212 L404.8,232.6 L396,232.6 Z"/>
<path fill="#fff" d="M393.9,183 L407.4,183 L407.4,208.5 C407.4,211.5 406,213 404,213 L397.3,213 C395.3,213 393.9,211.5 393.9,208.5 Z"/>
<path fill="none" d="M393.9,186.2 L407.4,186.2 M393.9,187.6 L407.4,187.6 M393.9,202.6 L407.4,202.6 M393.9,204.2 L407.4,204.2 M393.9,205.6 L407.4,205.6"/>
<path fill="#fff" d="M408.2,174.5 L408.2,178 L411.5,178.5 L413,176.2 L415.3,176.6 L416,180 L419.4,181 L419.4,200.3 L408.9,200.3 L408.9,181 Z"/>
<path fill="none" d="M408.9,182.6 L419.4,182.6 M408.9,197 L419.4,197 M408.9,198.4 L419.4,198.4 M413,200.3 L413,202.6 L415.3,202.6 L415.3,200.3"/>
<path fill="#fff" d="M366,256 C366,250 371,246 377,245 L392,240 C398,238 404,237 408,240 L409,250 C404,256 396,260 388,262 L375,263 C369,263 366,260 366,256 Z"/>
<path fill="none" d="M375,251.2 m-4.5,0 a4.5,4.5 0 1,0 9,0 a4.5,4.5 0 1,0 -9,0"/>
<path fill="none" d="M375,251.2 m-1.8,0 a1.8,1.8 0 1,0 3.6,0 a1.8,1.8 0 1,0 -3.6,0"/>
<path fill="none" d="M390.5,249.5 m-5.5,0 a5.5,5.5 0 1,0 11,0 a5.5,5.5 0 1,0 -11,0"/>
<path fill="none" d="M401,237 m-2.2,0 a2.2,2.2 0 1,0 4.4,0 a2.2,2.2 0 1,0 -4.4,0"/>
<path fill="#fff" d="M343,83 C345,81 351,82 353.3,86 L371.5,136.6 L362.6,139.8 Z"/>
<path fill="none" d="M346,91 L355,88.5"/>
<path fill="#fff" d="M297.5,59.5 C310,59.5 345,60.8 370,62.5 C380,63.5 386,64.5 389.8,66.2 C387,67.5 382,67.5 378,67.8 C376,69.5 373,69.5 372,67.8 C360,67.6 340,68.5 320,70.5 C317,71 314,70.5 312,69.5 C308,68 303,65 299.5,62.5 C297.5,61 297,60 297.5,59.5 Z"/>
<path fill="none" d="M313.5,70.3 C315,72.5 317.5,75.5 320.5,76.3 L348,76.3 C354,75 362,70.5 369,67.4"/>
<path fill="#fff" d="M340.5,78.3 m-4.6,0 a4.6,4.6 0 1,0 9.2,0 a4.6,4.6 0 1,0 -9.2,0"/>
<path fill="#fff" d="M555.8,163 L567.7,160.5 L600.4,245.6 C601,250 595,252 592.5,249 Z"/>
<path fill="#fff" d="M554.2,160.8 L563.6,158.8 L564.6,161.3 L555.4,163.4 Z"/>
<path fill="#fff" d="M535.6,116.4 L543.6,112.4 L563,159 L554.6,160.6 Z"/>
<path fill="#fff" d="M522,105.2 L537.2,99.6 C539.5,100.5 541.5,102 543,104.5 C544.5,107 544.6,110.5 543.6,112.4 L535.6,116.4 C533.5,115.5 532,113.8 531.2,112.2 C529,110.5 526,109.5 523.8,108.2 Z"/>
<path fill="none" d="M531,106.2 L538.8,103.4 L539.6,105 L531.8,107.8 Z"/>
<path fill="#fff" d="M555.6,140.5 C557,138.5 559,139 561,142 C563,146 565,151 567.6,162.5 L564,163.5 Z"/>
<path fill="#fff" d="M508,73.5 L519,68 L521,71.5 L520,73 L509.2,78.5 Z"/>
<path fill="none" d="M508.4,74.3 L519,69.3 M508.8,76 L519.5,71"/>
<path fill="#fff" d="M522,48.8 C520.5,50 519.6,51.2 519.6,51.2 L512,55.2 L502.8,59.2 C500.5,60.5 500.3,63.5 502.4,65.2 C503.5,65.8 505,64.6 506,64.8 C508.2,65.2 508.3,66.4 507.6,66.8 L504,69.2 C502.8,70.2 503.2,71.8 506,72.4 L508.4,72.8 L518,67.6 L530,62.4 L532.4,61.2 Z"/>
<path fill="none" d="M512,55.2 C510.5,58 510.8,62 512.4,64.4 C513.5,66 516,66.8 518.8,66.8"/>
<path fill="none" d="M502.5,62.6 l1.2,0 M506.2,70.4 l1.2,0"/>
<path fill="#fff" d="M529.6,52.4 m-7.3,0 a7.3,7.3 0 1,0 14.6,0 a7.3,7.3 0 1,0 -14.6,0"/>
<path fill="none" d="M529.6,52.4 m-5.2,0 a5.2,5.2 0 1,0 10.4,0 a5.2,5.2 0 1,0 -10.4,0"/>
<path fill="none" d="M533.5,58.8 L536.5,58"/>
</g>
<g stroke="#9c9c9c" stroke-width="1" stroke-linejoin="round">
<path fill="#fff" d="M698.5,74.5 L766,68.4 L766,79.6 L698.5,83 C696.8,82 696.5,75.5 698.5,74.5 Z"/>
<path fill="#fff" d="M778.5,68.4 L848.3,74.5 C850.2,75.5 850.2,82 848.3,83 L778.5,79.6 Z"/>
<path fill="#fff" d="M766,69 C766,67.5 767,67 768,67 L776.5,67 C777.5,67 778.5,67.5 778.5,69 L778.5,101 C778.5,106 766,106 766,101 Z"/>
<path fill="none" d="M766,79.6 L778.5,79.6"/>
<path fill="none" d="M768,96.6 a3.7,3.7 0 1,0 7.4,0 a3.7,3.7 0 1,0 -7.4,0"/>
<path fill="none" d="M771,96.6 a0.7,0.7 0 1,0 1.4,0 a0.7,0.7 0 1,0 -1.4,0"/>
</g>
<g stroke="#9c9c9c" stroke-width="1" stroke-linejoin="round" fill="#fff">
<path d="M809.30,236.00 L809.28,237.14 L812.52,238.50 L812.34,240.44 L808.91,241.18 L808.72,242.30 L808.49,243.42 L811.42,245.35 L810.89,247.22 L807.38,247.32 L806.98,248.39 L806.55,249.45 L809.08,251.88 L808.21,253.62 L804.75,253.08 L804.16,254.06 L803.55,255.02 L805.58,257.88 L804.41,259.43 L801.10,258.25 L800.35,259.11 L799.57,259.94 L801.04,263.12 L799.60,264.43 L796.57,262.67 L795.67,263.37 L794.75,264.04 L795.61,267.45 L793.96,268.47 L791.30,266.18 L790.29,266.70 L789.26,267.20 L789.49,270.70 L787.67,271.40 L785.48,268.66 L784.39,268.99 L783.28,269.28 L782.86,272.77 L780.95,273.13 L779.30,270.03 L778.16,270.15 L777.03,270.24 L775.97,273.59 L774.03,273.59 L772.97,270.24 L771.84,270.15 L770.70,270.03 L769.05,273.13 L767.14,272.77 L766.72,269.28 L765.61,268.99 L764.52,268.66 L762.33,271.40 L760.51,270.70 L760.74,267.20 L759.71,266.70 L758.70,266.18 L756.04,268.47 L754.39,267.45 L755.25,264.04 L754.33,263.37 L753.43,262.67 L750.40,264.43 L748.96,263.12 L750.43,259.94 L749.65,259.11 L748.90,258.25 L745.59,259.43 L744.42,257.88 L746.45,255.02 L745.84,254.06 L745.25,253.08 L741.79,253.62 L740.92,251.88 L743.45,249.45 L743.02,248.39 L742.62,247.32 L739.11,247.22 L738.58,245.35 L741.51,243.42 L741.28,242.30 L741.09,241.18 L737.66,240.44 L737.48,238.50 L740.72,237.14 L740.70,236.00 L740.72,234.86 L737.48,233.50 L737.66,231.56 L741.09,230.82 L741.28,229.70 L741.51,228.58 L738.58,226.65 L739.11,224.78 L742.62,224.68 L743.02,223.61 L743.45,222.55 L740.92,220.12 L741.79,218.38 L745.25,218.92 L745.84,217.94 L746.45,216.98 L744.42,214.12 L745.59,212.57 L748.90,213.75 L749.65,212.89 L750.43,212.06 L748.96,208.88 L750.40,207.57 L753.43,209.33 L754.33,208.63 L755.25,207.96 L754.39,204.55 L756.04,203.53 L758.70,205.82 L759.71,205.30 L760.74,204.80 L760.51,201.30 L762.33,200.60 L764.52,203.34 L765.61,203.01 L766.72,202.72 L767.14,199.23 L769.05,198.87 L770.70,201.97 L771.84,201.85 L772.97,201.76 L774.03,198.41 L775.97,198.41 L777.03,201.76 L778.16,201.85 L779.30,201.97 L780.95,198.87 L782.86,199.23 L783.28,202.72 L784.39,203.01 L785.48,203.34 L787.67,200.60 L789.49,201.30 L789.26,204.80 L790.29,205.30 L791.30,205.82 L793.96,203.53 L795.61,204.55 L794.75,207.96 L795.67,208.63 L796.57,209.33 L799.60,207.57 L801.04,208.88 L799.57,212.06 L800.35,212.89 L801.10,213.75 L804.41,212.57 L805.58,214.12 L803.55,216.98 L804.16,217.94 L804.75,218.92 L808.21,218.38 L809.08,220.12 L806.55,222.55 L806.98,223.61 L807.38,224.68 L810.89,224.78 L811.42,226.65 L808.49,228.58 L808.72,229.70 L808.91,230.82 L812.34,231.56 L812.52,233.50 L809.28,234.86 Z"/>
<g fill="none">
<ellipse cx="760.5" cy="219.7" rx="9.8" ry="9.2" transform="rotate(30 760.5 219.7)"/>
<ellipse cx="786.9" cy="216.3" rx="8.8" ry="10.6" transform="rotate(-20 786.9 216.3)"/>
<ellipse cx="755.9" cy="244.4" rx="10.2" ry="9.2" transform="rotate(-30 755.9 244.4)"/>
<ellipse cx="776.7" cy="258" rx="8.2" ry="10.6" transform="rotate(20 776.7 258)"/>
<path d="M753,213 C756,216 758,214 760,217 C758,221 761,223 764,222 M753,226 L768,214"/>
<path d="M780,210 C783,213 786,211 789,214 C791,218 794,216 795,219"/>
<path d="M748,240 C751,243 749,246 752,249 C755,247 757,250 759,252 M752,236 L760,252"/>
<path d="M769,262 C772,259 775,263 778,260 C781,263 783,261 785,263 M769,253 L784,255"/>
<path d="M766.9,207.8 L779.3,206.1 L773.3,212.9 Z"/>
<path d="M746,234.1 L750.3,223.9 L753.3,229 Z"/>
<path d="M755.4,258 L763.1,254.6 L766.5,263.9 Z"/>
<path d="M799.7,218 L803.1,228.2 L797.1,228.2 Z"/>
<path d="M788.6,235 L799.7,233.3 L798.8,242.7 Z"/>
</g>
<path d="M768.63,241.38 L809.65,276.46 A6.8,6.8 0 0,0 818.95,266.54 L781.37,227.82 A9.3,9.3 0 0,0 768.63,241.38 Z"/>
<circle cx="775" cy="234.6" r="6" fill="none"/>
<circle cx="814.3" cy="271.5" r="3.8" fill="none"/>
</g>
<line x1="341.00" y1="27.20" x2="503.00" y2="27.20" stroke="#575a86" stroke-width="1.6"/><polygon points="338.0,27.2 344.5,24.6 344.5,29.8" fill="#1e2166"/><polygon points="506.0,27.2 499.5,29.8 499.5,24.6" fill="#1e2166"/>
<circle cx="422.5" cy="27" r="6.7" fill="#1e2166"/><text x="422.5" y="30.58" text-anchor="middle" font-family="Liberation Sans, sans-serif" font-weight="bold" font-size="10" fill="#fff">C</text>
<line x1="393.40" y1="44.30" x2="503.20" y2="44.30" stroke="#575a86" stroke-width="1.6"/><polygon points="390.4,44.3 396.9,41.7 396.9,46.9" fill="#1e2166"/><polygon points="506.2,44.3 499.7,46.9 499.7,41.7" fill="#1e2166"/>
<circle cx="448.6" cy="44.3" r="6.7" fill="#1e2166"/><text x="448.6" y="47.88" text-anchor="middle" font-family="Liberation Sans, sans-serif" font-weight="bold" font-size="10" fill="#fff">L</text>
<line x1="391" y1="44" x2="391" y2="248" stroke="#474757" stroke-width="1.6" stroke-dasharray="2.4,2.1"/>
<line x1="532.19" y1="68.76" x2="543.41" y2="94.84" stroke="#575a86" stroke-width="1.6"/><polygon points="531.0,66.0 536.0,70.9 531.2,73.0" fill="#1e2166"/><polygon points="544.6,97.6 539.6,92.7 544.4,90.6" fill="#1e2166"/>
<circle cx="537.7" cy="81" r="6.7" fill="#1e2166"/><text x="537.7" y="84.58" text-anchor="middle" font-family="Liberation Sans, sans-serif" font-weight="bold" font-size="10" fill="#fff">D</text>
<line x1="519.80" y1="79.00" x2="519.80" y2="244.60" stroke="#575a86" stroke-width="1.6"/><polygon points="519.8,76.0 522.4,82.5 517.2,82.5" fill="#1e2166"/><polygon points="519.8,247.6 517.2,241.1 522.4,241.1" fill="#1e2166"/>
<circle cx="519.8" cy="157.4" r="6.7" fill="#1e2166"/><text x="519.8" y="160.98" text-anchor="middle" font-family="Liberation Sans, sans-serif" font-weight="bold" font-size="10" fill="#fff">K</text>
<line x1="391" y1="249.2" x2="520" y2="249.2" stroke="#474757" stroke-width="1.6" stroke-dasharray="2.4,2.1"/>
<line x1="260" y1="243.8" x2="412" y2="243.8" stroke="#474757" stroke-width="1.6" stroke-dasharray="2.4,2.1"/>
<line x1="390.40" y1="248.20" x2="369.09" y2="141.34" stroke="#575a86" stroke-width="1.6"/><polygon points="368.5,138.4 372.3,144.3 367.2,145.3" fill="#1e2166"/>
<circle cx="376.3" cy="181" r="6.7" fill="#1e2166"/><text x="376.3" y="184.58" text-anchor="middle" font-family="Liberation Sans, sans-serif" font-weight="bold" font-size="10" fill="#fff">A</text>
<path d="M359,238 Q364,228 376,224" fill="none" stroke="#575a86" stroke-width="1.5"/>
<polygon points="357.6,241.0 358.0,234.0 362.7,236.2" fill="#1e2166"/>
<polygon points="378.5,223.0 372.9,227.2 371.5,222.2" fill="#1e2166"/>
<circle cx="359.8" cy="221.8" r="6.7" fill="#1e2166"/><text x="359.8" y="225.38" text-anchor="middle" font-family="Liberation Sans, sans-serif" font-weight="bold" font-size="10" fill="#fff">B</text>
<line x1="405.30" y1="147.80" x2="405.30" y2="347.00" stroke="#575a86" stroke-width="1.6"/><polygon points="405.3,144.8 407.9,151.3 402.7,151.3" fill="#1e2166"/><polygon points="405.3,350.0 402.7,343.5 407.9,343.5" fill="#1e2166"/>
<circle cx="405.3" cy="220.6" r="6.7" fill="#1e2166"/><text x="405.3" y="224.18" text-anchor="middle" font-family="Liberation Sans, sans-serif" font-weight="bold" font-size="10" fill="#fff">M</text>
<line x1="411.60" y1="242.20" x2="411.60" y2="251.00" stroke="#575a86" stroke-width="1.6"/><polygon points="411.6,239.2 414.2,245.7 409.0,245.7" fill="#1e2166"/><polygon points="411.6,254.0 409.0,247.5 414.2,247.5" fill="#1e2166"/>
<circle cx="423.7" cy="240.5" r="6.7" fill="#1e2166"/><text x="423.7" y="244.08" text-anchor="middle" font-family="Liberation Sans, sans-serif" font-weight="bold" font-size="10" fill="#fff">J</text>
<line x1="245.60" y1="145.00" x2="245.60" y2="347.00" stroke="#575a86" stroke-width="1.6"/><polygon points="245.6,142.0 248.2,148.5 243.0,148.5" fill="#1e2166"/><polygon points="245.6,350.0 243.0,343.5 248.2,343.5" fill="#1e2166"/>
<circle cx="245.6" cy="247.2" r="6.7" fill="#1e2166"/><text x="245.6" y="250.78" text-anchor="middle" font-family="Liberation Sans, sans-serif" font-weight="bold" font-size="10" fill="#fff">Q</text>
<line x1="258.48" y1="259.37" x2="366.52" y2="272.63" stroke="#575a86" stroke-width="1.6"/><polygon points="255.5,259.0 262.3,257.2 261.6,262.4" fill="#1e2166"/><polygon points="369.5,273.0 362.7,274.8 363.4,269.6" fill="#1e2166"/>
<circle cx="301.6" cy="264.7" r="6.7" fill="#1e2166"/><text x="301.6" y="268.28" text-anchor="middle" font-family="Liberation Sans, sans-serif" font-weight="bold" font-size="10" fill="#fff">I</text>
<line x1="258.50" y1="284.00" x2="592.00" y2="284.00" stroke="#575a86" stroke-width="1.6"/><polygon points="255.5,284.0 262.0,281.4 262.0,286.6" fill="#1e2166"/><polygon points="595.0,284.0 588.5,286.6 588.5,281.4" fill="#1e2166"/>
<circle cx="442" cy="284" r="6.7" fill="#1e2166"/><text x="442" y="287.58" text-anchor="middle" font-family="Liberation Sans, sans-serif" font-weight="bold" font-size="10" fill="#fff">H</text>
<path d="M561,249 Q565,236 577,231.5" fill="none" stroke="#575a86" stroke-width="1.5"/>
<polygon points="560.3,252.3 558.9,245.4 564.0,246.4" fill="#1e2166"/>
<polygon points="579.8,230.5 574.6,235.2 572.8,230.3" fill="#1e2166"/>
<circle cx="575.3" cy="246.3" r="6.7" fill="#1e2166"/><text x="575.3" y="249.88" text-anchor="middle" font-family="Liberation Sans, sans-serif" font-weight="bold" font-size="10" fill="#fff">E</text>
<polygon points="593.3,256.8 597.2,252.9 598.8,257.3" fill="#1e2166"/>
<polygon points="604.6,252.3 600.7,256.2 599.1,251.8" fill="#1e2166"/>
<circle cx="603" cy="267.3" r="6.7" fill="#1e2166"/><text x="603" y="270.88" text-anchor="middle" font-family="Liberation Sans, sans-serif" font-weight="bold" font-size="10" fill="#fff">F</text>
<line x1="593.3" y1="292" x2="593.8" y2="356" stroke="#474757" stroke-width="1.6" stroke-dasharray="2.4,2.1"/>
<line x1="614.6" y1="291.3" x2="642.5" y2="356.6" stroke="#474757" stroke-width="1.6" stroke-dasharray="2.4,2.1"/>
<line x1="597.40" y1="358.10" x2="637.30" y2="358.10" stroke="#575a86" stroke-width="1.6"/><polygon points="594.4,358.1 600.9,355.5 600.9,360.7" fill="#1e2166"/><polygon points="640.3,358.1 633.8,360.7 633.8,355.5" fill="#1e2166"/>
<circle cx="616.6" cy="358" r="6.7" fill="#1e2166"/><text x="616.6" y="361.58" text-anchor="middle" font-family="Liberation Sans, sans-serif" font-weight="bold" font-size="10" fill="#fff">G</text>
<line x1="702.40" y1="117.90" x2="847.80" y2="117.90" stroke="#575a86" stroke-width="1.6"/><polygon points="699.4,117.9 705.9,115.3 705.9,120.5" fill="#1e2166"/><polygon points="850.8,117.9 844.3,120.5 844.3,115.3" fill="#1e2166"/>
<circle cx="772.5" cy="117.9" r="6.7" fill="#1e2166"/><text x="772.5" y="121.48" text-anchor="middle" font-family="Liberation Sans, sans-serif" font-weight="bold" font-size="10" fill="#fff">N</text>
<line x1="787.90" y1="69.80" x2="787.90" y2="101.60" stroke="#575a86" stroke-width="1.6"/><polygon points="787.9,66.8 790.5,73.3 785.3,73.3" fill="#1e2166"/><polygon points="787.9,104.6 785.3,98.1 790.5,98.1" fill="#1e2166"/>
<circle cx="787.9" cy="85.5" r="6.7" fill="#1e2166"/><text x="787.9" y="89.08" text-anchor="middle" font-family="Liberation Sans, sans-serif" font-weight="bold" font-size="10" fill="#fff">O</text>
<line x1="786.74" y1="218.99" x2="831.26" y2="258.51" stroke="#575a86" stroke-width="1.6"/><polygon points="784.5,217.0 791.1,219.4 787.6,223.3" fill="#1e2166"/><polygon points="833.5,260.5 826.9,258.1 830.4,254.2" fill="#1e2166"/>
<circle cx="808.2" cy="237.9" r="6.7" fill="#1e2166"/><text x="808.2" y="241.48" text-anchor="middle" font-family="Liberation Sans, sans-serif" font-weight="bold" font-size="10" fill="#fff">P</text>
</svg>
<div class="hdr"></div>
<div class="h" style="left:426.3px">S</div>
<div class="h" style="left:579.6px">M</div>
<div class="h" style="left:732.3px">L</div>
<div class="h" style="left:885.2px">XL</div>
<div class="row odd" style="top:427px;height:34px"></div>
<div class="c" style="left:37px;top:434.30px">A</div>
<div class="lb" style="top:433.50px">SITZROHRLÄNGE <small>(mm)</small></div>
<div class="v" style="left:430.9px;top:433.50px">380</div>
<div class="v" style="left:583.0px;top:433.50px">431</div>
<div class="v" style="left:737.1px;top:433.50px">475</div>
<div class="v" style="left:890.4px;top:433.50px">525</div>
<div class="row even" style="top:461px;height:34px"></div>
<div class="c" style="left:37px;top:468.05px">B</div>
<div class="lb" style="top:467.50px">SITZWINKEL</div>
<div class="v" style="left:430.9px;top:467.50px">73,5°</div>
<div class="v" style="left:583.0px;top:467.50px">73,5°</div>
<div class="v" style="left:737.1px;top:467.50px">73,5°</div>
<div class="v" style="left:890.4px;top:467.50px">73,5°</div>
<div class="row odd" style="top:495px;height:34px"></div>
<div class="c" style="left:37px;top:501.80px">C</div>
<div class="lb" style="top:501.50px">OBERROHRLÄNGE <small>(mm)</small></div>
<div class="v" style="left:430.9px;top:501.50px">595</div>
<div class="v" style="left:583.0px;top:501.50px">614</div>
<div class="v" style="left:737.1px;top:501.50px">635</div>
<div class="v" style="left:890.4px;top:501.50px">665</div>
<div class="row even" style="top:529px;height:33px"></div>
<div class="c" style="left:37px;top:535.55px">D</div>
<div class="lb" style="top:534.50px">STEUERROHRLÄNGE <small>(mm)</small></div>
<div class="v" style="left:430.9px;top:534.50px">95</div>
<div class="v" style="left:583.0px;top:534.50px">95</div>
<div class="v" style="left:737.1px;top:534.50px">105</div>
<div class="v" style="left:890.4px;top:534.50px">115</div>
<div class="row odd" style="top:562px;height:34px"></div>
<div class="c" style="left:37px;top:569.30px">E</div>
<div class="lb" style="top:568.50px">LENKWINKEL</div>
<div class="v" style="left:430.9px;top:568.50px">69,5°</div>
<div class="v" style="left:583.0px;top:568.50px">69,5°</div>
<div class="v" style="left:737.1px;top:568.50px">70,0°</div>
<div class="v" style="left:890.4px;top:568.50px">70,0°</div>
<div class="row even" style="top:596px;height:34px"></div>
<div class="c" style="left:37px;top:603.05px">F</div>
<div class="lb" style="top:602.50px">GABELVORBIEGUNG <small>(mm)</small></div>
<div class="v" style="left:430.9px;top:602.50px">43</div>
<div class="v" style="left:583.0px;top:602.50px">43</div>
<div class="v" style="left:737.1px;top:602.50px">43</div>
<div class="v" style="left:890.4px;top:602.50px">43</div>
<div class="row odd" style="top:630px;height:34px"></div>
<div class="c" style="left:37px;top:636.80px">G</div>
<div class="lb" style="top:636.50px">GABELNACHLAUF <small>(mm)</small></div>
<div class="v" style="left:430.9px;top:636.50px">94,9</div>
<div class="v" style="left:583.0px;top:636.50px">94,9</div>
<div class="v" style="left:737.1px;top:636.50px">94,9</div>
<div class="v" style="left:890.4px;top:636.50px">94,9</div>
<div class="row even" style="top:664px;height:33px"></div>
<div class="c" style="left:37px;top:670.55px">H</div>
<div class="lb" style="top:669.50px">RADSTAND <small>(mm)</small></div>
<div class="v" style="left:430.9px;top:669.50px">1087</div>
<div class="v" style="left:583.0px;top:669.50px">1106</div>
<div class="v" style="left:737.1px;top:669.50px">1128</div>
<div class="v" style="left:890.4px;top:669.50px">1159</div>
<div class="row odd" style="top:697px;height:34px"></div>
<div class="c" style="left:37px;top:704.30px">I</div>
<div class="lb" style="top:703.50px">KETTENSTREBENLÄNGE <small>(mm)</small></div>
<div class="v" style="left:430.9px;top:703.50px">425</div>
<div class="v" style="left:583.0px;top:703.50px">425</div>
<div class="v" style="left:737.1px;top:703.50px">425</div>
<div class="v" style="left:890.4px;top:703.50px">425</div>
<div class="row even" style="top:731px;height:34px"></div>
<div class="c" style="left:37px;top:738.05px">J</div>
<div class="lb" style="top:737.50px">TRETLAGERABSENKUNG <small>(mm)</small></div>
<div class="v" style="left:430.9px;top:737.50px">58</div>
<div class="v" style="left:583.0px;top:737.50px">58</div>
<div class="v" style="left:737.1px;top:737.50px">58</div>
<div class="v" style="left:890.4px;top:737.50px">58</div>
<div class="row odd" style="top:765px;height:34px"></div>
<div class="c" style="left:37px;top:771.80px">K</div>
<div class="lb" style="top:771.50px">STACK <small>(mm)</small></div>
<div class="v" style="left:430.9px;top:771.50px">604</div>
<div class="v" style="left:583.0px;top:771.50px">604</div>
<div class="v" style="left:737.1px;top:771.50px">613</div>
<div class="v" style="left:890.4px;top:771.50px">632</div>
<div class="row even" style="top:799px;height:33px"></div>
<div class="c" style="left:37px;top:805.55px">L</div>
<div class="lb" style="top:804.50px">REACH <small>(mm)</small></div>
<div class="v" style="left:430.9px;top:804.50px">416</div>
<div class="v" style="left:583.0px;top:804.50px">435</div>
<div class="v" style="left:737.1px;top:804.50px">453</div>
<div class="v" style="left:890.4px;top:804.50px">477</div>
<div class="row odd" style="top:832px;height:34px"></div>
<div class="c" style="left:37px;top:839.30px">M</div>
<div class="lb" style="top:838.50px">ÜBERSTANDS-/DURCHSTIEGSHÖHE <small>(mm)</small></div>
<div class="v" style="left:430.9px;top:838.50px">737</div>
<div class="v" style="left:583.0px;top:838.50px">764</div>
<div class="v" style="left:737.1px;top:838.50px">791</div>
<div class="v" style="left:890.4px;top:838.50px">829</div>
<div class="row even" style="top:866px;height:34px"></div>
<div class="c" style="left:37px;top:873.05px">N</div>
<div class="lb" style="top:872.50px">LENKERBREITE <small>(mm)</small></div>
<div class="v" style="left:430.9px;top:872.50px">760</div>
<div class="v" style="left:583.0px;top:872.50px">760</div>
<div class="v" style="left:737.1px;top:872.50px">760</div>
<div class="v" style="left:890.4px;top:872.50px">760</div>
<div class="row odd" style="top:900px;height:34px"></div>
<div class="c" style="left:37px;top:906.80px">O</div>
<div class="lb" style="top:906.50px">VORBAULÄNGE <small>(mm)</small></div>
<div class="v" style="left:430.9px;top:906.50px">60</div>
<div class="v" style="left:583.0px;top:906.50px">70</div>
<div class="v" style="left:737.1px;top:906.50px">80</div>
<div class="v" style="left:890.4px;top:906.50px">90</div>
<div class="row even" style="top:934px;height:33px"></div>
<div class="c" style="left:37px;top:940.55px">P</div>
<div class="lb" style="top:939.50px">KURBELARMLÄNGE <small>(mm)</small></div>
<div class="v" style="left:430.9px;top:939.50px">170</div>
<div class="v" style="left:583.0px;top:939.50px">175</div>
<div class="v" style="left:737.1px;top:939.50px">175</div>
<div class="v" style="left:890.4px;top:939.50px">175</div>
<div class="row odd" style="top:967px;height:34px"></div>
<div class="c" style="left:37px;top:974.30px">Q</div>
<div class="lb" style="top:973.50px">RADDURCHMESSER</div>
<div class="v" style="left:430.9px;top:973.50px">29"</div>
<div class="v" style="left:583.0px;top:973.50px">29"</div>
<div class="v" style="left:737.1px;top:973.50px">29"</div>
<div class="v" style="left:890.4px;top:973.50px">29"</div>
</body></html>
